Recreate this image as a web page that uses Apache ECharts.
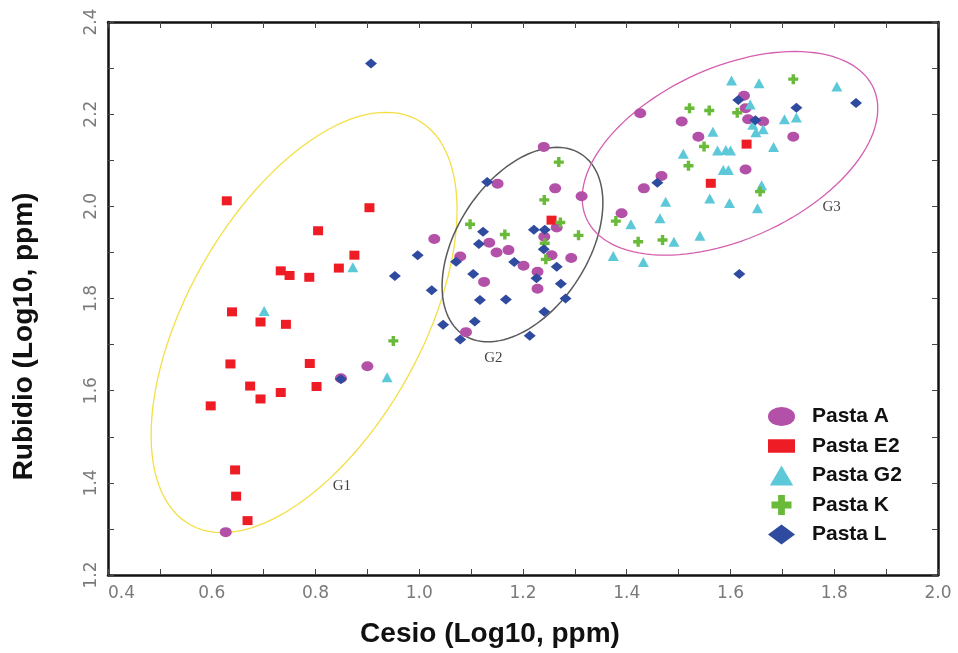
<!DOCTYPE html>
<html>
<head>
<meta charset="utf-8">
<script src="https://cdn.jsdelivr.net/npm/echarts@6/dist/echarts.min.js"></script>
<style>
  html, body { margin: 0; padding: 0; background: #fff; }
  #chart { width: 958px; height: 653px; }
</style>
</head>
<body>
<div id="chart"></div>
<script>
// Cesio vs Rubidio, log10 ppm
const pastaA = [
  [0.627, 1.293], [0.849, 1.627], [0.900, 1.653], [1.029, 1.929],
  [1.240, 2.129], [1.151, 2.049], [1.262, 2.039], [1.313, 2.022], [1.135, 1.921], [1.149, 1.900],
  [1.172, 1.905], [1.265, 1.954], [1.241, 1.934], [1.079, 1.891], [1.201, 1.871], [1.255, 1.894],
  [1.293, 1.888], [1.228, 1.858], [1.125, 1.836], [1.228, 1.821], [1.090, 1.727],
  [1.426, 2.202], [1.506, 2.184], [1.626, 2.240], [1.629, 2.213], [1.634, 2.189], [1.663, 2.184],
  [1.538, 2.151], [1.721, 2.151], [1.629, 2.080], [1.467, 2.066], [1.433, 2.039], [1.390, 1.985]
];
const pastaE2 = [
  [0.629, 2.012], [0.904, 1.997], [0.805, 1.947], [0.875, 1.894], [0.845, 1.866], [0.733, 1.860],
  [0.750, 1.850], [0.788, 1.846], [0.639, 1.771], [0.694, 1.749], [0.743, 1.744], [0.636, 1.658],
  [0.789, 1.659], [0.674, 1.610], [0.802, 1.609], [0.733, 1.596], [0.694, 1.582], [0.598, 1.567],
  [0.645, 1.428], [0.647, 1.371], [0.669, 1.318], [1.255, 1.970], [1.631, 2.135], [1.562, 2.050]
];
const pastaG2 = [
  [0.872, 1.868], [0.701, 1.773], [0.938, 1.629], [1.374, 1.892],
  [1.602, 2.273], [1.655, 2.267], [1.805, 2.260], [1.638, 2.221], [1.704, 2.189], [1.727, 2.193],
  [1.643, 2.177], [1.663, 2.167], [1.649, 2.161], [1.566, 2.162], [1.509, 2.114], [1.575, 2.121],
  [1.591, 2.122], [1.600, 2.121], [1.683, 2.129], [1.586, 2.079], [1.596, 2.079], [1.660, 2.046],
  [1.560, 2.017], [1.475, 2.010], [1.598, 2.007], [1.652, 1.996], [1.464, 1.974], [1.408, 1.961],
  [1.541, 1.936], [1.491, 1.923], [1.432, 1.879]
];
const pastaK = [
  [0.950, 1.708],
  [1.269, 2.096], [1.241, 2.014], [1.272, 1.965], [1.098, 1.961], [1.165, 1.939], [1.307, 1.937],
  [1.242, 1.920], [1.244, 1.885],
  [1.721, 2.276], [1.521, 2.213], [1.559, 2.208], [1.613, 2.203], [1.549, 2.130], [1.519, 2.088],
  [1.657, 2.032], [1.379, 1.968], [1.422, 1.923], [1.469, 1.927]
];
const pastaL = [
  [0.849, 1.625], [0.907, 2.310], [0.997, 1.894], [0.953, 1.849],
  [1.131, 2.053], [1.123, 1.945], [1.115, 1.918], [1.221, 1.949], [1.242, 1.949], [1.240, 1.907],
  [1.071, 1.880], [1.183, 1.879], [1.265, 1.869], [1.104, 1.853], [1.226, 1.844], [1.273, 1.832],
  [1.024, 1.818], [1.117, 1.797], [1.167, 1.798], [1.282, 1.800], [1.241, 1.771], [1.107, 1.750],
  [1.046, 1.743], [1.079, 1.711], [1.213, 1.719],
  [1.615, 2.231], [1.727, 2.214], [1.842, 2.224], [1.648, 2.187], [1.459, 2.051], [1.617, 1.853]
];

// group ellipses: centre and two conjugate half-axes, in data units
const groupNames = ['G1', 'G2', 'G3'];
const ellipseCenters = [[0.778, 1.748], [1.199, 1.917], [1.599, 2.115]];
const ellipseAxisU = [[0.158, 0.456], [0.0665, 0.211], [0.125, 0.221]];
const ellipseAxisV = [[0.249, 0], [0.140, 0], [0.256, 0]];
const groupLabelPos = [[0.851, 1.392], [1.143, 1.670], [1.795, 1.999]];
const ellipseColors = ['#f3df45', '#5a5a5a', '#d45fb0'];

const plusPath = 'path://M3.3,0H6.7V3.3H10V6.7H6.7V10H3.3V6.7H0V3.3H3.3Z';
const ovalPath = 'path://M0,9.5A13.5,9.5 0 1 1 27,9.5A13.5,9.5 0 1 1 0,9.5Z';

const chart = echarts.init(document.getElementById('chart'));

const tickLabel = function (v) {
  return Math.round(v * 10) % 2 === 0 ? v.toFixed(1) : '';
};

const baseAxis = {
  type: 'value',
  axisLine: { show: true, onZero: false, lineStyle: { color: '#111', width: 2.5 } },
  axisTick: { show: true, inside: true, length: 6, lineStyle: { color: '#444', width: 1 } },
  splitLine: { show: false }
};

const labelStyle = {
  fontFamily: 'DejaVu Sans',
  fontSize: 17,
  color: '#7a7a7a'
};

const option = {
  animation: false,
  backgroundColor: '#fff',
  grid: { left: 108, right: 20, top: 22, bottom: 78 },
  legend: {
    orient: 'vertical',
    left: 763,
    top: 401,
    itemWidth: 27,
    itemHeight: 20,
    itemGap: 8.5,
    textStyle: {
      fontFamily: 'Liberation Sans',
      fontWeight: 'bold',
      fontSize: 21,
      color: '#111',
      padding: [0, 0, 0, 12]
    },
    data: [
      { name: 'Pasta A', icon: ovalPath },
      { name: 'Pasta E2', icon: 'path://M0,0H27V13.5H0Z' },
      { name: 'Pasta G2', icon: 'path://M10.5,0L21,18H0Z' },
      { name: 'Pasta K', icon: plusPath },
      { name: 'Pasta L', icon: 'diamond' }
    ]
  },
  xAxis: [
    Object.assign({}, baseAxis, {
      position: 'bottom',
      min: 0.4, max: 2.0, interval: 0.1,
      name: 'Cesio (Log10, ppm)',
      nameLocation: 'middle',
      nameGap: 45,
      nameTextStyle: {
        fontFamily: 'Liberation Sans', fontWeight: 'bold', fontSize: 28, color: '#111',
        padding: [0, 66, 0, 0]
      },
      axisLabel: Object.assign({}, labelStyle, { margin: 10, formatter: tickLabel, alignMinLabel: 'left' })
    }),
    Object.assign({}, baseAxis, {
      position: 'top',
      min: 0.4, max: 2.0, interval: 0.1,
      axisLabel: { show: false }
    })
  ],
  yAxis: [
    Object.assign({}, baseAxis, {
      position: 'left',
      min: 1.2, max: 2.4, interval: 0.1,
      name: 'Rubidio (Log10, ppm)',
      nameLocation: 'middle',
      nameGap: 70,
      nameTextStyle: {
        fontFamily: 'Liberation Sans', fontWeight: 'bold', fontSize: 28, color: '#111',
        padding: [0, 76, 0, 0]
      },
      axisLabel: Object.assign({}, labelStyle, { margin: 8, rotate: 90, formatter: tickLabel })
    }),
    Object.assign({}, baseAxis, {
      position: 'right',
      min: 1.2, max: 2.4, interval: 0.1,
      axisLabel: { show: false }
    })
  ],
  series: [
    {
      type: 'custom',
      silent: true,
      data: ellipseCenters,
      encode: { x: 0, y: 1 },
      z: 1,
      renderItem: function (params, api) {
        const i = params.dataIndex;
        const c = ellipseCenters[i], u = ellipseAxisU[i], v = ellipseAxisV[i];
        const pts = [];
        for (let k = 0; k < 120; k++) {
          const t = k / 120 * Math.PI * 2;
          pts.push(api.coord([
            c[0] + u[0] * Math.cos(t) + v[0] * Math.sin(t),
            c[1] + u[1] * Math.cos(t) + v[1] * Math.sin(t)
          ]));
        }
        return {
          type: 'polygon',
          shape: { points: pts },
          style: { fill: 'none', stroke: ellipseColors[i], lineWidth: i === 1 ? 1.5 : 1.3 }
        };
      }
    },
    {
      type: 'scatter',
      silent: true,
      symbolSize: 0,
      data: groupLabelPos,
      z: 1,
      label: {
        show: true,
        position: 'inside',
        fontFamily: 'Liberation Serif',
        fontSize: 15,
        color: '#111',
        formatter: function (p) { return groupNames[p.dataIndex]; }
      }
    },
    {
      name: 'Pasta A', type: 'scatter', data: pastaA,
      symbol: 'circle', symbolSize: [12, 10],
      itemStyle: { color: '#b350a8', opacity: 1 }
    },
    {
      name: 'Pasta E2', type: 'scatter', data: pastaE2,
      symbol: 'rect', symbolSize: [10, 9],
      itemStyle: { color: '#ee1c24', opacity: 1 }
    },
    {
      name: 'Pasta G2', type: 'scatter', data: pastaG2,
      symbol: 'triangle', symbolSize: [11, 10],
      itemStyle: { color: '#5cc8d8', opacity: 1 }
    },
    {
      name: 'Pasta K', type: 'scatter', data: pastaK,
      symbol: plusPath, symbolSize: [10, 10],
      itemStyle: { color: '#6aba3a', opacity: 1 }
    },
    {
      name: 'Pasta L', type: 'scatter', data: pastaL,
      symbol: 'diamond', symbolSize: [12, 10],
      itemStyle: { color: '#2f4b9f', opacity: 1 }
    }
  ]
};

chart.setOption(option);
</script>
</body>
</html>
